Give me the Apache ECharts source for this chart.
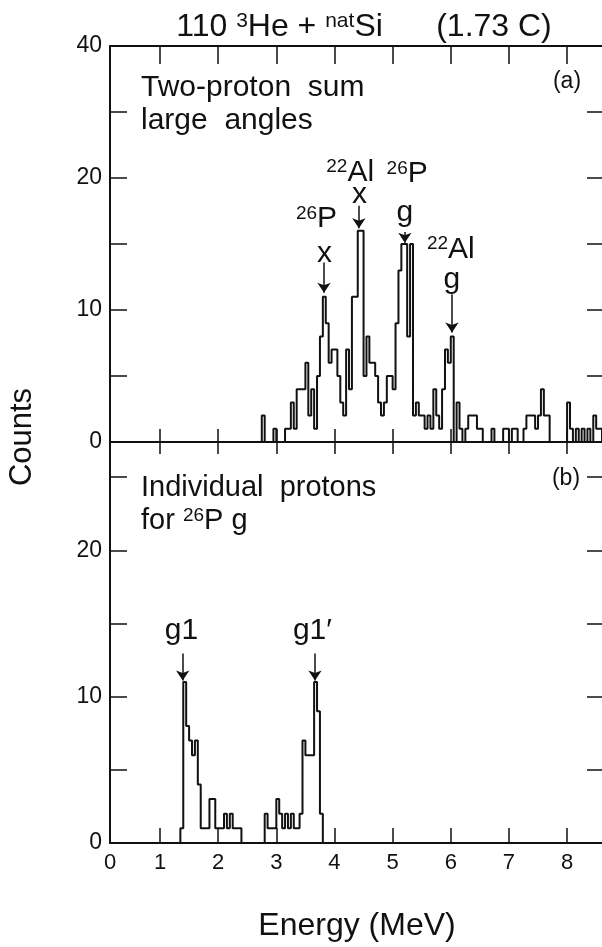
<!DOCTYPE html>
<html>
<head>
<meta charset="utf-8">
<title>110 3He + natSi</title>
<script src="https://cdn.jsdelivr.net/npm/echarts@6.0.0/dist/echarts.min.js"></script>
<style>
  html, body { margin: 0; padding: 0; background: #fff; }
  #chart { width: 602px; height: 947px; }
</style>
</head>
<body>
<div id="chart"></div>
<script>
const binWidth = 0.05;

// (a) two-proton sum, large angles: bins from 2.75 MeV
const topStart = 2.75;
const topCounts = [
  2, 0, 0, 0, 1, 0, 0, 0, 1, 1,      // 2.75 - 3.20
  3, 1, 4, 4, 4, 6, 2, 4, 1, 5,      // 3.25 - 3.70
  8, 11, 9, 6, 7, 7, 5, 3, 2, 7,     // 3.75 - 4.20
  4, 11, 11, 16, 16, 5, 8, 6, 6, 5,  // 4.25 - 4.70
  3, 2, 3, 5, 5, 4, 9, 13, 15, 15,   // 4.75 - 5.20
  8, 15, 2, 3, 2, 2, 1, 2, 1, 4,     // 5.25 - 5.70
  2, 1, 4, 7, 6, 8, 0, 3, 1, 0,      // 5.75 - 6.20
  1, 2, 2, 2, 1, 1, 0, 0, 0, 1,      // 6.25 - 6.70
  0, 0, 0, 1, 1, 0, 1, 1, 0, 0,      // 6.75 - 7.20
  1, 2, 2, 2, 1, 2, 4, 2, 2, 0,      // 7.25 - 7.70
  0, 0, 0, 0, 0, 3, 1, 0, 1, 0,      // 7.75 - 8.20
  1, 0, 1, 0, 2, 1, 1                // 8.25 - 8.55
];

// (b) individual protons for 26P g: bins from 1.35 MeV
const botStart = 1.35;
const botCounts = [
  1, 11, 8, 7, 6, 7, 4, 1, 1, 1,     // 1.35 - 1.80
  3, 3, 1, 1, 1, 2, 1, 2, 1, 1,      // 1.85 - 2.30
  1, 0, 0, 0, 0, 0, 0, 0, 0, 2,      // 2.35 - 2.80
  1, 1, 1, 3, 2, 1, 2, 1, 2, 1,      // 2.85 - 3.30
  1, 2, 7, 6, 6, 6, 11, 9, 2         // 3.35 - 3.75
];

// axes
const xMin = 0.14;   // the frame starts a little right of 0 MeV, label "0" sits there
const xMax = 8.6;
const xTicks = [1, 2, 3, 4, 5, 6, 7, 8];
const xLabelValues = [xMin, 1, 2, 3, 4, 5, 6, 7, 8];
const yTicks = [5, 10, 15, 20, 25];
const topYMax = 30;
const topYLabelValues = [0, 10, 20, 30];
const topYLabels = ['0', '10', '20', '40'];  // printed that way on the original
const botYMax = 27.4;
const botYLabelValues = [0, 10, 20];

// peak markers: arrow x, arrow tail/tip counts, text anchor
const topNotes = [
  { mass: '26', el: 'P', tag: 'x', e: 3.82, from: 13.6, to: 11.3, textE: 3.69, isoY: 16.9, tagE: 3.83, tagY: 14.3 },
  { mass: '22', el: 'Al', tag: 'x', e: 4.42, from: 17.9, to: 16.2, textE: 4.27, isoY: 20.4, tagE: 4.43, tagY: 18.7 },
  { mass: '26', el: 'P', tag: 'g', e: 5.21, from: 15.9, to: 15.1, textE: 5.25, isoY: 20.3, tagE: 5.21, tagY: 17.4 },
  { mass: '22', el: 'Al', tag: 'g', e: 6.02, from: 11.2, to: 8.3, textE: 6.0, isoY: 14.6, tagE: 6.02, tagY: 12.3 }
];
const botNotes = [
  { text: 'g1', e: 1.39, from: 12.95, to: 11.1, textE: 1.37, textY: 14.5 },
  { text: 'g1\u2032', e: 3.665, from: 12.95, to: 11.1, textE: 3.62, textY: 14.5 }
];

const ink = '#111';
const font = '"Liberation Sans", Arial, Helvetica, sans-serif';

function stepData(start, counts) {
  const pts = [[start, 0]];
  counts.forEach((c, i) => {
    pts.push([+(start + i * binWidth).toFixed(2), c]);
  });
  pts.push([+(start + counts.length * binWidth).toFixed(2), 0]);
  return pts;
}

function xAxis(grid, pos, tickLen, withLabels) {
  return {
    type: 'value',
    gridIndex: grid,
    position: pos,
    min: xMin,
    max: xMax,
    axisLine: { show: true, onZero: false, lineStyle: { color: ink, width: 2 } },
    axisTick: {
      show: true,
      inside: true,
      length: tickLen,
      customValues: xTicks,
      lineStyle: { color: ink, width: 1.5 },
    },
    axisLabel: withLabels
      ? {
          show: true,
          customValues: xLabelValues,
          formatter: (v) => String(Math.round(v)),
          color: ink,
          fontSize: 22,
          fontFamily: font,
          margin: 9,
        }
      : { show: false },
    splitLine: { show: false },
  };
}

function yAxis(grid, pos, max, labelValues, labelTexts) {
  const left = pos === 'left';
  return {
    type: 'value',
    gridIndex: grid,
    position: pos,
    min: 0,
    max: max,
    axisLine: { show: left, onZero: false, lineStyle: { color: ink, width: 2 } },
    axisTick: {
      show: true,
      inside: true,
      length: left ? 17 : 15,
      customValues: yTicks,
      lineStyle: { color: ink, width: 1.5 },
    },
    axisLabel: labelValues
      ? {
          show: true,
          customValues: labelValues,
          formatter: (v) => labelTexts ? labelTexts[labelValues.indexOf(v)] : String(v),
          color: ink,
          fontSize: 23,
          fontFamily: font,
          margin: 8,
        }
      : { show: false },
    splitLine: { show: false },
  };
}

const rich = {
  sup: { fontSize: 19, fontFamily: font, color: ink, verticalAlign: 'top', lineHeight: 18 },
  el: { fontSize: 30, fontFamily: font, color: ink, lineHeight: 30 },
};

function arrows(notes) {
  return notes.map((n) => [{ coord: [n.e, n.from] }, { coord: [n.e, n.to] }]);
}

function topLabels() {
  const out = [];
  topNotes.forEach((n) => {
    out.push({ coord: [n.textE, n.isoY], label: { formatter: `{sup|${n.mass}}{el|${n.el}}` } });
    out.push({ coord: [n.tagE, n.tagY], label: { formatter: `{el|${n.tag}}` } });
  });
  return out;
}

function botLabels() {
  return botNotes.map((n) => ({ coord: [n.textE, n.textY], label: { formatter: `{el|${n.text}}` } }));
}

function histSeries(xi, yi, data, arrowData, labelData) {
  return {
    type: 'line',
    xAxisIndex: xi,
    yAxisIndex: yi,
    data: data,
    step: 'end',
    showSymbol: false,
    silent: true,
    animation: false,
    lineStyle: { color: ink, width: 2 },
    markLine: {
      silent: true,
      animation: false,
      symbol: ['none', 'arrow'],
      symbolSize: 10,
      label: { show: false },
      lineStyle: { color: ink, width: 1.5, type: 'solid' },
      data: arrowData,
    },
    markPoint: {
      silent: true,
      animation: false,
      symbol: 'circle',
      symbolSize: 1,
      itemStyle: { color: 'rgba(0,0,0,0)' },
      label: { show: true, position: 'inside', color: ink, rich: rich },
      data: labelData,
    },
  };
}

const chart = echarts.init(document.getElementById('chart'));

chart.setOption({
  animation: false,
  backgroundColor: '#fff',
  grid: [
    { left: 110, right: 0, top: 46, height: 396 },
    { left: 110, right: 0, top: 442, height: 401 },
  ],
  xAxis: [
    xAxis(0, 'bottom', 13, false),
    xAxis(0, 'top', 18, false),
    xAxis(1, 'bottom', 15, true),
    xAxis(1, 'top', 12, false),
  ],
  yAxis: [
    yAxis(0, 'left', topYMax, topYLabelValues, topYLabels),
    yAxis(0, 'right', topYMax, null),
    yAxis(1, 'left', botYMax, botYLabelValues, null),
    yAxis(1, 'right', botYMax, null),
  ],
  series: [
    histSeries(0, 0, stepData(topStart, topCounts), arrows(topNotes), topLabels()),
    histSeries(2, 2, stepData(botStart, botCounts), arrows(botNotes), botLabels()),
  ],
  graphic: [
    {
      type: 'text',
      x: 364,
      y: 27,
      style: {
        text: '110 {s|3}He + {s|nat}Si      (1.73 C)',
        fill: ink,
        fontSize: 32,
        fontFamily: font,
        align: 'center',
        verticalAlign: 'middle',
        rich: {
          s: { fontSize: 21, fontFamily: font, fill: ink, verticalAlign: 'top', lineHeight: 20 },
        },
      },
    },
    {
      type: 'text',
      x: 141,
      y: 88,
      style: { text: 'Two-proton  sum', fill: ink, fontSize: 30, fontFamily: font, verticalAlign: 'middle' },
    },
    {
      type: 'text',
      x: 141,
      y: 121,
      style: { text: 'large  angles', fill: ink, fontSize: 30, fontFamily: font, verticalAlign: 'middle' },
    },
    {
      type: 'text',
      x: 141,
      y: 488,
      style: { text: 'Individual  protons', fill: ink, fontSize: 29, fontFamily: font, verticalAlign: 'middle' },
    },
    {
      type: 'text',
      x: 141,
      y: 521,
      style: {
        text: 'for {s|26}P g',
        fill: ink,
        fontSize: 29,
        fontFamily: font,
        verticalAlign: 'middle',
        rich: {
          s: { fontSize: 19, fontFamily: font, fill: ink, verticalAlign: 'top', lineHeight: 18 },
        },
      },
    },
    {
      type: 'text',
      x: 567,
      y: 82,
      style: { text: '(a)', fill: ink, fontSize: 23, fontFamily: font, align: 'center', verticalAlign: 'middle' },
    },
    {
      type: 'text',
      x: 566,
      y: 479,
      style: { text: '(b)', fill: ink, fontSize: 23, fontFamily: font, align: 'center', verticalAlign: 'middle' },
    },
    {
      type: 'text',
      x: 22,
      y: 437,
      rotation: Math.PI / 2,
      style: { text: 'Counts', fill: ink, fontSize: 31, fontFamily: font, align: 'center', verticalAlign: 'middle' },
    },
    {
      type: 'text',
      x: 357,
      y: 926,
      style: { text: 'Energy (MeV)', fill: ink, fontSize: 32, fontFamily: font, align: 'center', verticalAlign: 'middle' },
    },
  ],
});
</script>
</body>
</html>
